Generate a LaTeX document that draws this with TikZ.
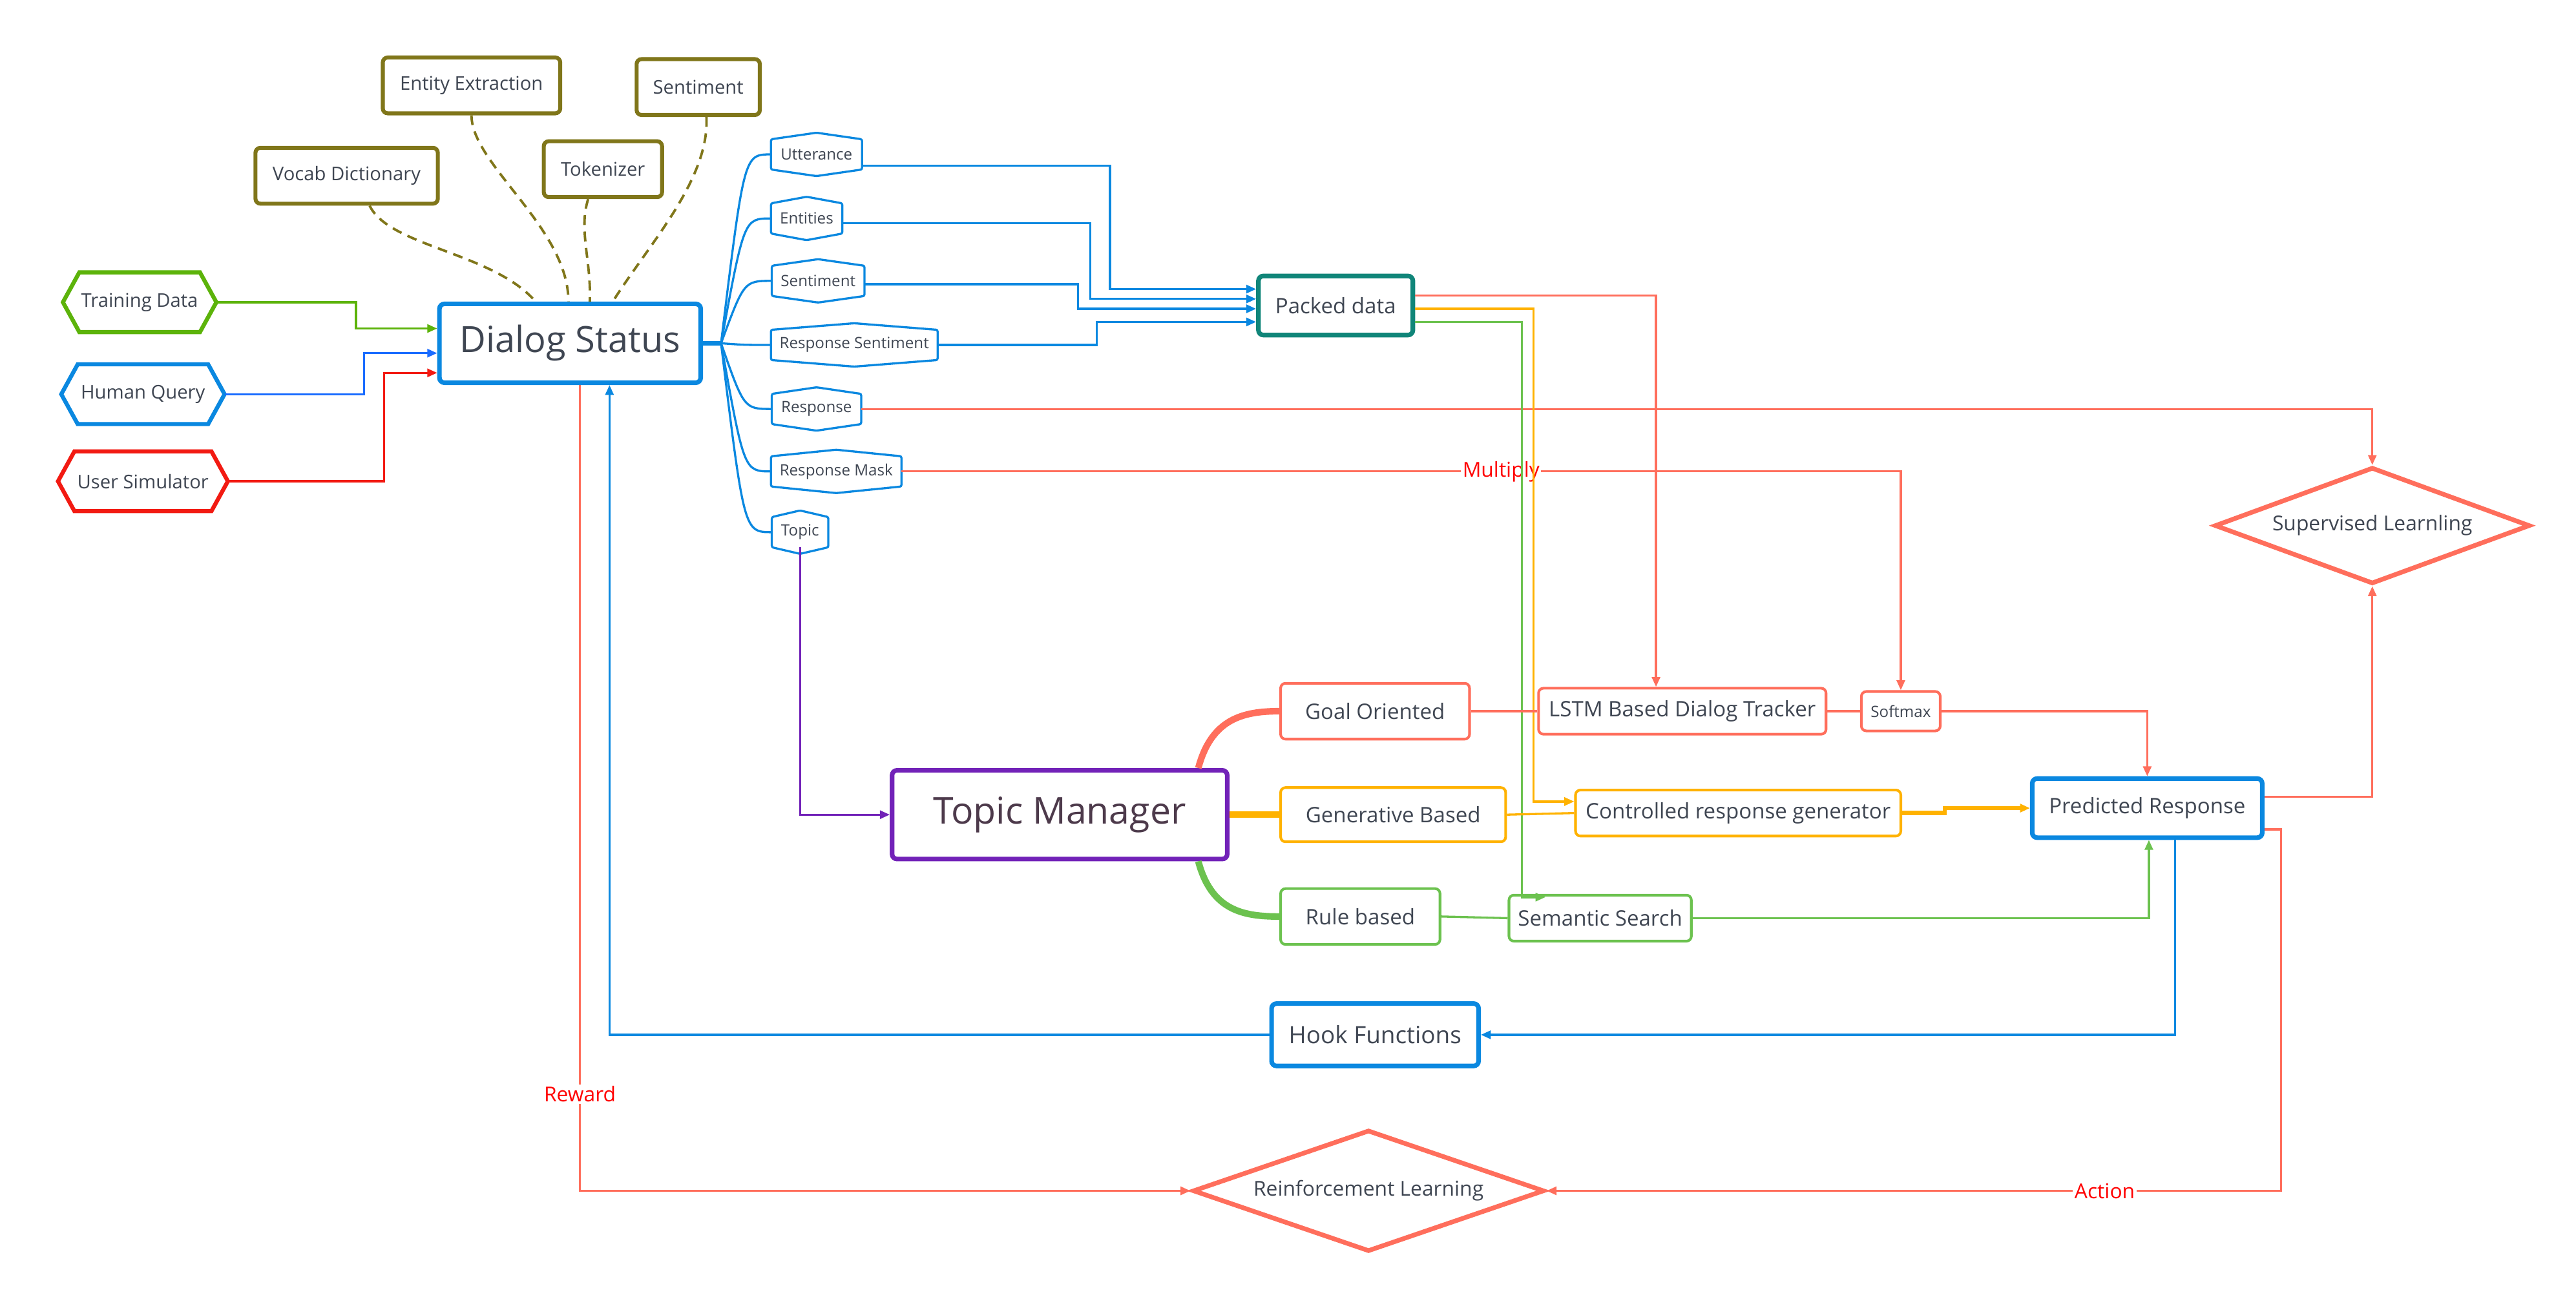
\documentclass[tikz,border=0pt]{standalone}
\usepackage{fontspec}
\setmainfont{Open Sans}
\usepackage{tikz}
\usetikzlibrary{arrows.meta, shapes.geometric, calc}
\usepackage{xcolor}
\definecolor{txt}{HTML}{3F4652}
\definecolor{tmtext}{HTML}{4D3A4B}
\definecolor{cblue}{HTML}{0A88E0}
\definecolor{cqblue}{HTML}{1A6CFF}
\definecolor{cgreen}{HTML}{5CB30A}
\definecolor{cred}{HTML}{F21A12}
\definecolor{colive}{HTML}{80761A}
\definecolor{csalmon}{HTML}{FF6E5C}
\definecolor{corange}{HTML}{FFB200}
\definecolor{clgreen}{HTML}{6CC24F}
\definecolor{cteal}{HTML}{108579}
\definecolor{cpurple}{HTML}{7222B8}

\begin{document}
\begin{tikzpicture}[x=1pt, y=-1pt,
    box/.style={draw, rounded corners=3pt, text=txt, inner sep=0pt, font=\fontsize{13}{15}\selectfont},
    olivebox/.style={box, draw=colive, line width=2.4pt, minimum height=34pt, font=\fontsize{11.5}{13}\selectfont},
    hexnode/.style={inner sep=0pt, minimum height=36pt, text=txt, font=\fontsize{11.5}{13}\selectfont},
    field/.style={inner sep=0pt, minimum height=18pt, text=txt, font=\fontsize{9.5}{11}\selectfont},
    link/.style={line width=1.3pt},
    arr/.style={link, -{Triangle[length=6pt, width=5pt]}},
    lbl/.style={fill=white, text=red, inner sep=1pt, font=\fontsize{12.5}{14}\selectfont},
    decide/.style={diamond, draw=csalmon, line width=2.8pt, text=txt, inner sep=0pt, font=\fontsize{12.5}{14}\selectfont}
]
    \useasboundingbox (0,0) rectangle (1568,790.5);

    % Nodes
    \node[olivebox, minimum width=108pt] (ent) at (287,52) {Entity Extraction};
    \node[olivebox, minimum width=75pt] (snt) at (425,53) {Sentiment};
    \node[olivebox, minimum width=111pt] (voc) at (211,107) {Vocab Dictionary};
    \node[olivebox, minimum width=72pt] (tok) at (367,103) {Tokenizer};

    \node[hexnode, minimum width=93pt] (trn) at (85,184) {Training Data};
    \node[hexnode, minimum width=99pt] (hum) at (87,240) {Human Query};
    \node[hexnode, minimum width=103pt] (usr) at (87,293) {User Simulator};

    \node[box, draw=cblue, line width=2.8pt, minimum width=159pt, minimum height=48pt, font=\fontsize{22}{26}\selectfont] (ds) at (347,209) {Dialog Status};

    \node[field, minimum width=55pt] (utt) at (497,94) {Utterance};
    \node[field, minimum width=43pt] (ents) at (491,133) {Entities};
    \node[field, minimum width=56pt] (sen) at (498,171) {Sentiment};
    \node[field, minimum width=101pt] (rsn) at (520,210) {Response Sentiment};
    \node[field, minimum width=54pt] (rsp) at (497,249) {Response};
    \node[field, minimum width=79pt] (rmk) at (509,287) {Response Mask};
    \node[field, minimum width=34pt] (top) at (487,324) {Topic};

    \node[box, draw=cteal, line width=2.8pt, minimum width=94pt, minimum height=36pt] (pkd) at (813,186) {Packed data};

    \node[box, draw=cpurple, text=tmtext, line width=2.8pt, minimum width=204pt, minimum height=54pt, font=\fontsize{22.5}{26}\selectfont] (tm) at (645,496) {Topic Manager};

    \node[box, draw=csalmon, line width=1.6pt, minimum width=115pt, minimum height=34pt] (gol) at (837,433) {Goal Oriented};
    \node[box, draw=corange, line width=1.6pt, minimum width=137pt, minimum height=33pt] (gen) at (848,496) {Generative Based};
    \node[box, draw=clgreen, line width=1.6pt, minimum width=97pt, minimum height=34pt] (rul) at (828,558) {Rule based};

    \node[box, draw=csalmon, line width=1.6pt, minimum width=175pt, minimum height=28pt] (lstm) at (1024,433) {LSTM Based Dialog Tracker};
    \node[box, draw=csalmon, line width=1.6pt, minimum width=48pt, minimum height=24pt, font=\fontsize{9.5}{11}\selectfont] (sfm) at (1157,433) {Softmax};
    \node[box, draw=corange, line width=1.6pt, minimum width=198pt, minimum height=28pt] (crg) at (1058,495) {Controlled response generator};
    \node[box, draw=clgreen, line width=1.6pt, minimum width=111pt, minimum height=28pt] (sem) at (974,559) {Semantic Search};

    \node[box, draw=cblue, line width=2.8pt, minimum width=140pt, minimum height=36pt] (prd) at (1307,492) {Predicted Response};
    \node[decide, aspect=2.7, minimum width=192pt, minimum height=71pt] (sup) at (1444,320) {Supervised Learnling};
    \node[box, draw=cblue, line width=2.8pt, minimum width=126pt, minimum height=38pt, font=\fontsize{14.5}{17}\selectfont] (hok) at (837,630) {Hook Functions};
    \node[decide, aspect=2.9, minimum width=214pt, minimum height=74pt] (rl) at (833,725) {Reinforcement Learning};

    % Hexagon outlines
    \foreach \n/\c in {trn/cgreen, hum/cblue, usr/cred}
        \draw[\c, line width=2.5pt] (\n.west) -- ([xshift=10pt]\n.north west) -- ([xshift=-10pt]\n.north east) -- (\n.east) -- ([xshift=-10pt]\n.south east) -- ([xshift=10pt]\n.south west) -- cycle;
    \foreach \n in {utt, ents, sen, rsn, rsp, rmk, top}
        \draw[cblue, line width=1.3pt, rounded corners=1pt] (\n.north west) -- ([yshift=4pt]\n.north) -- (\n.north east) -- (\n.south east) -- ([yshift=-4pt]\n.south) -- (\n.south west) -- cycle;

    % Tools of the dialog status
    \draw[colive, line width=1.5pt, dash pattern=on 6pt off 4pt] ([xshift=14pt]voc.south) .. controls +(12,25) and +(-26,-30) .. ([xshift=-21pt]ds.north);
    \draw[colive, line width=1.5pt, dash pattern=on 6pt off 4pt] (ent.south) .. controls +(0,30) and +(0,-45) .. ([xshift=-1pt]ds.north);
    \draw[colive, line width=1.5pt, dash pattern=on 6pt off 4pt] ([xshift=-9pt]tok.south) .. controls +(-6,19) and +(1,-25) .. ([xshift=12pt]ds.north);
    \draw[colive, line width=1.5pt, dash pattern=on 6pt off 4pt] ([xshift=5pt]snt.south) .. controls +(2,38) and +(22,-35) .. ([xshift=26pt]ds.north);

    % Inputs
    \draw[arr, cgreen] (trn.east) -- ++(85,0) |- ([yshift=9pt]ds.west);
    \draw[arr, cqblue] (hum.east) -- ++(85,0) |- ([yshift=-6pt]ds.west);
    \draw[arr, cred] (usr.east) -- ++(95,0) |- ([yshift=-18pt]ds.west);

    % Fields of the dialog status
    \coordinate (fan) at ([xshift=11pt]ds.east);
    \draw[cblue, line width=2.5pt] (ds.east) -- (fan);
    \foreach \n in {utt, ents, sen, rsn, rsp, rmk, top}
        \draw[link, cblue] (fan) .. controls ($(fan |- \n.west)+(14,0)$) .. (\n.west);

    % Into the packed data
    \draw[arr, cblue] ([yshift=-7pt]utt.east) -- ++(151,0) |- ([yshift=10pt]pkd.west);
    \draw[arr, cblue] ([yshift=-3pt]ents.east) -- ++(151,0) |- ([yshift=4pt]pkd.west);
    \draw[arr, cblue] ([yshift=-2pt]sen.east) -- ++(130,0) |- ([yshift=-2pt]pkd.west);
    \draw[arr, cblue] (rsn.east) -- ++(97,0) |- ([yshift=-10pt]pkd.west);

    \draw[arr, csalmon] (rsp.east) -| (sup.north);
    \draw[arr, csalmon] (rmk.east) -| node[lbl, pos=0.3] {Multiply} (sfm.north);
    \draw[arr, cpurple] (top.south) |- (tm.west);

    % Out of the packed data
    \draw[arr, csalmon] ([yshift=6pt]pkd.east) -| ([xshift=-16pt]lstm.north);
    \draw[arr, corange] ([yshift=-2pt]pkd.east) -- ++(72,0) |- ([yshift=7pt]crg.west);
    \draw[arr, clgreen] ([yshift=-10pt]pkd.east) -- ++(65,0) |- ([xshift=23pt, yshift=-2pt]sem.north west);

    % Topic manager branches
    \draw[csalmon, line width=4pt] ([xshift=-19pt]tm.north east) .. controls +(8,-30) and +(-22,0) .. (gol.west);
    \draw[corange, line width=4pt] (tm.east) -- (gen.west);
    \draw[clgreen, line width=4pt] ([xshift=-19pt]tm.south east) .. controls +(8,30) and +(-22,0) .. (rul.west);

    \draw[link, csalmon] (gol.east) -- (lstm.west);
    \draw[link, csalmon] (lstm.east) -- (sfm.west);
    \draw[link, corange] (gen.east) -- (crg.west);
    \draw[link, clgreen] (rul.east) -- (sem.west);

    % Into the predicted response
    \draw[arr, csalmon] (sfm.east) -| (prd.north);
    \draw[arr, corange, line width=2.5pt] (crg.east) -- ++(26,0) |- (prd.west);
    \draw[arr, clgreen] (sem.east) -| ([xshift=1pt]prd.south);

    % Learning loops
    \draw[arr, csalmon] ([yshift=7pt]prd.east) -| (sup.south);
    \draw[arr, cblue] ([xshift=17pt]prd.south) |- (hok.east);
    \draw[arr, cblue] (hok.west) -| ([xshift=24pt]ds.south);
    \draw[arr, csalmon] ([yshift=-13pt]prd.east) -- ++(10,0) |- node[lbl, pos=0.62] {Action} (rl.east);
    \draw[arr, csalmon] ([xshift=6pt]ds.south) |- node[lbl, pos=0.44] {Reward} (rl.west);
\end{tikzpicture}
\end{document}
